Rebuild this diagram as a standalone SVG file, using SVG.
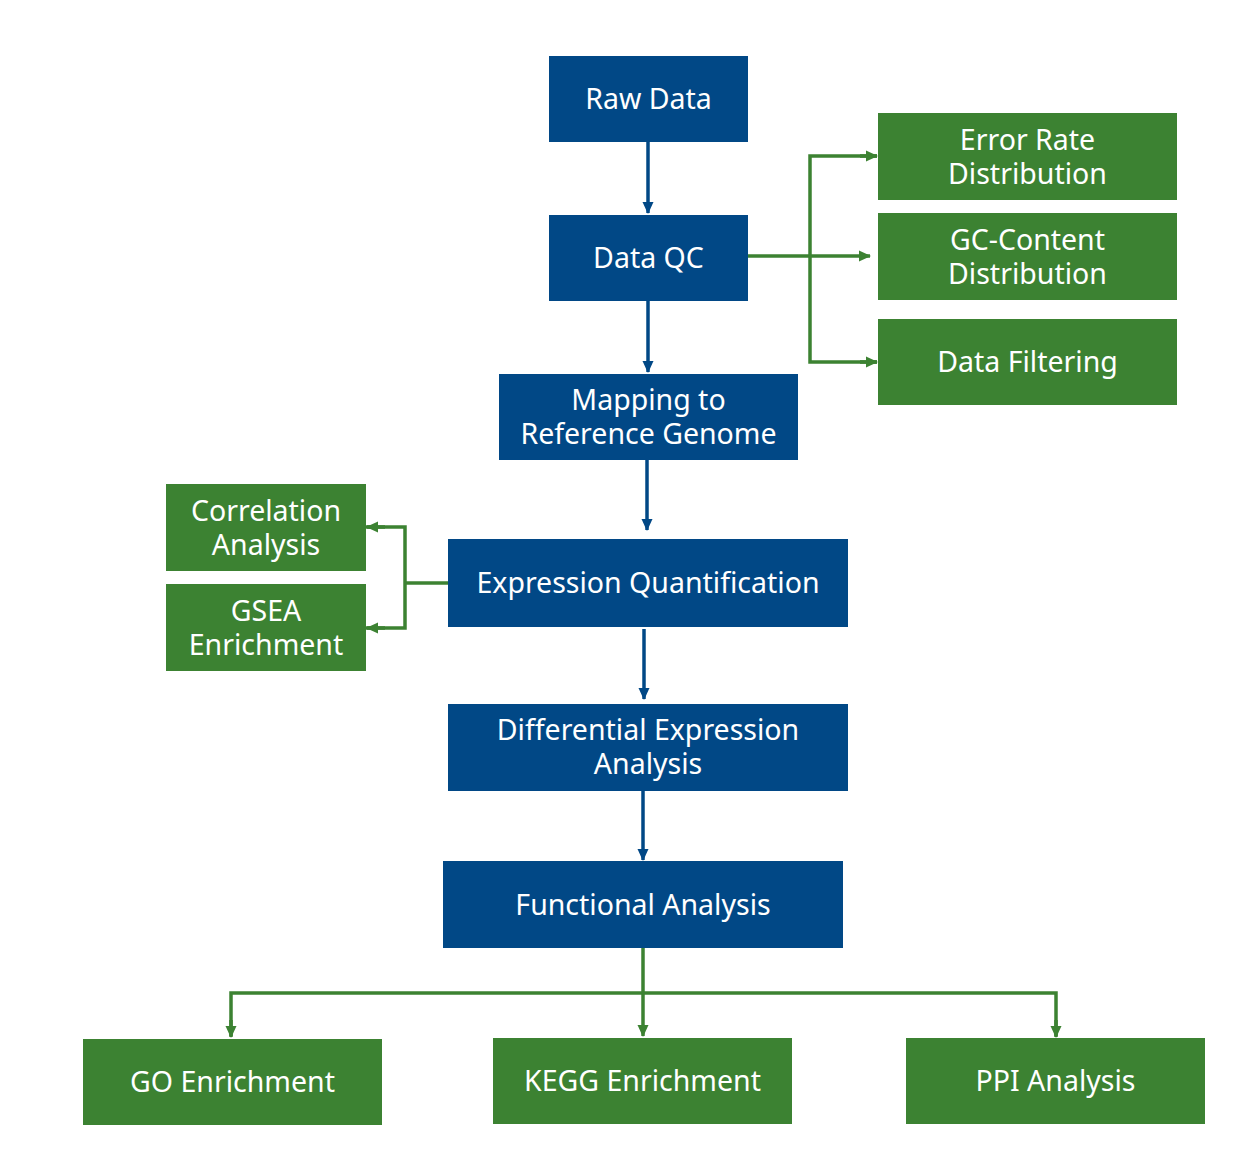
<svg xmlns="http://www.w3.org/2000/svg" width="1260" height="1151" viewBox="0 0 1260 1151">
<defs>
<style>
.b{fill:#014886}
.g{fill:#3c8232}
text{font-family:"Noto Sans","Open Sans",sans-serif;font-size:28.5px;fill:#fff;text-anchor:middle}
.cb{stroke:#014886;stroke-width:3.5;fill:none}
.cg{stroke:#3c8232;stroke-width:3.5;fill:none}
</style>
<marker id="ab" markerWidth="12" markerHeight="12" refX="11" refY="6" orient="auto" markerUnits="userSpaceOnUse"><path d="M0,0.5 L12,6 L0,11.5 Z" fill="#014886"/></marker>
<marker id="ag" markerWidth="12" markerHeight="12" refX="11" refY="6" orient="auto" markerUnits="userSpaceOnUse"><path d="M0,0.5 L12,6 L0,11.5 Z" fill="#3c8232"/></marker>
</defs>
<rect width="1260" height="1151" fill="#fff"/>
<g id="connectors">
<path class="cb" d="M648,142 L648,213" marker-end="url(#ab)"/>
<path class="cb" d="M648,301 L648,372" marker-end="url(#ab)"/>
<path class="cb" d="M647,460 L647,530" marker-end="url(#ab)"/>
<path class="cb" d="M644,629 L644,699" marker-end="url(#ab)"/>
<path class="cb" d="M643,791 L643,860" marker-end="url(#ab)"/>
<path class="cg" d="M748,256 L870,256" marker-end="url(#ag)"/>
<path class="cg" d="M877,156 L810,156 L810,362 L877,362"/>
<path class="cg" d="M860,156 L877,156" marker-end="url(#ag)"/>
<path class="cg" d="M860,362 L877,362" marker-end="url(#ag)"/>
<path class="cg" d="M448,583 L405,583"/>
<path class="cg" d="M366,527 L405,527 L405,628 L366,628"/>
<path class="cg" d="M385,527 L367,527" marker-end="url(#ag)"/>
<path class="cg" d="M385,628 L367,628" marker-end="url(#ag)"/>
<path class="cg" d="M643,948 L643,1036" marker-end="url(#ag)"/>
<path class="cg" d="M231,1036 L231,993 L1056,993 L1056,1036"/>
<path class="cg" d="M231,1020 L231,1037" marker-end="url(#ag)"/>
<path class="cg" d="M1056,1020 L1056,1037" marker-end="url(#ag)"/>
</g>
<g id="raw"><rect class="b" x="549" y="56" width="199" height="86"/><text x="648.5" y="109">Raw Data</text></g>
<g id="qc"><rect class="b" x="549" y="215" width="199" height="86"/><text x="648.5" y="268">Data QC</text></g>
<g id="mapping"><rect class="b" x="499" y="374" width="299" height="86"/><text x="648.5" y="410">Mapping to</text><text x="648.5" y="444">Reference Genome</text></g>
<g id="expr"><rect class="b" x="448" y="539" width="400" height="88"/><text x="648" y="593">Expression Quantification</text></g>
<g id="diff"><rect class="b" x="448" y="704" width="400" height="87"/><text x="648" y="740">Differential Expression</text><text x="648" y="774">Analysis</text></g>
<g id="func"><rect class="b" x="443" y="861" width="400" height="87"/><text x="643" y="915">Functional Analysis</text></g>
<g id="err"><rect class="g" x="878" y="113" width="299" height="87"/><text x="1027.5" y="150">Error Rate</text><text x="1027.5" y="184">Distribution</text></g>
<g id="gc"><rect class="g" x="878" y="213" width="299" height="87"/><text x="1027.5" y="250">GC-Content</text><text x="1027.5" y="284">Distribution</text></g>
<g id="filter"><rect class="g" x="878" y="319" width="299" height="86"/><text x="1027.5" y="372">Data Filtering</text></g>
<g id="corr"><rect class="g" x="166" y="484" width="200" height="87"/><text x="266" y="521">Correlation</text><text x="266" y="555">Analysis</text></g>
<g id="gsea"><rect class="g" x="166" y="584" width="200" height="87"/><text x="266" y="621">GSEA</text><text x="266" y="655">Enrichment</text></g>
<g id="go"><rect class="g" x="83" y="1039" width="299" height="86"/><text x="232.5" y="1092">GO Enrichment</text></g>
<g id="kegg"><rect class="g" x="493" y="1038" width="299" height="86"/><text x="642.5" y="1091">KEGG Enrichment</text></g>
<g id="ppi"><rect class="g" x="906" y="1038" width="299" height="86"/><text x="1055.5" y="1091">PPI Analysis</text></g>
</svg>
